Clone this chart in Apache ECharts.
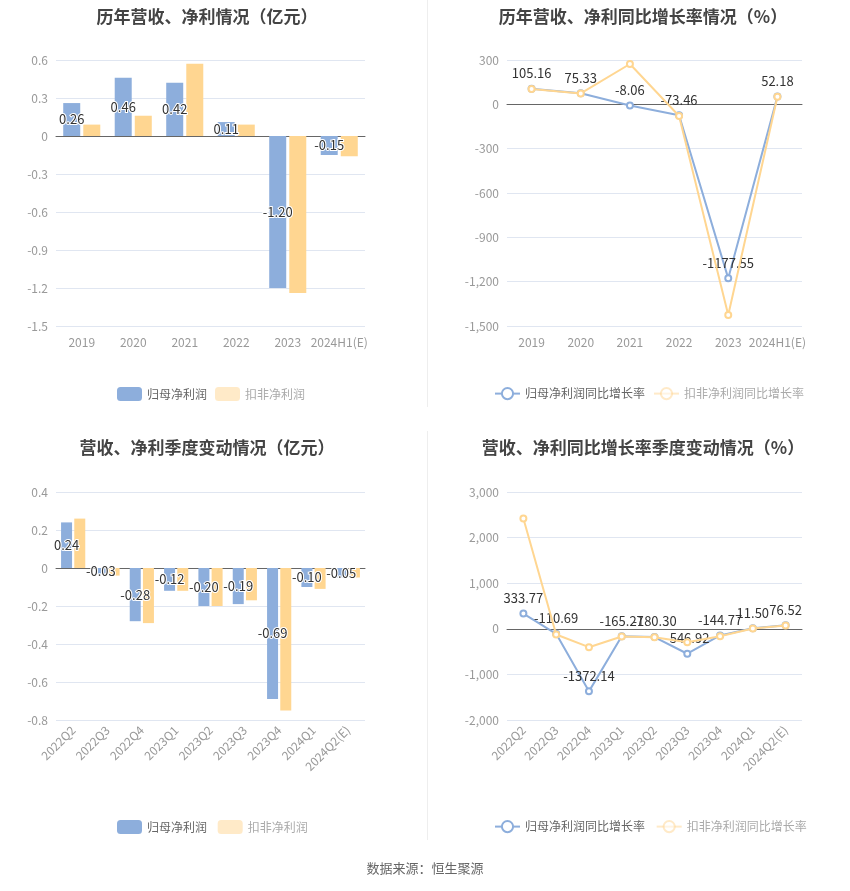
<!DOCTYPE html>
<html><head><meta charset="utf-8">
<script src="https://cdn.jsdelivr.net/npm/echarts@6/dist/echarts.min.js"></script>
<style>html,body{margin:0;padding:0;background:#fff}#c{width:850px;height:891px}</style>
</head><body><div id="c"></div>
<script>
const yearCats = ['2019','2020','2021','2022','2023','2024H1(E)'];
const yearNet = [0.26,0.46,0.42,0.11,-1.20,-0.15];
const yearDeduct = [0.09,0.16,0.57,0.09,-1.24,-0.16];
const yearNetGrowth = [105.16,75.33,-8.06,-73.46,-1177.55,52.18];
const yearDeductGrowth = [103,74,273,-79,-1426,51];
const qCats = ['2022Q2','2022Q3','2022Q4','2023Q1','2023Q2','2023Q3','2023Q4','2024Q1','2024Q2(E)'];
const qNet = [0.24,-0.03,-0.28,-0.12,-0.20,-0.19,-0.69,-0.10,-0.05];
const qDeduct = [0.26,-0.04,-0.29,-0.12,-0.20,-0.17,-0.75,-0.11,-0.05];
const qNetGrowth = [333.77,-110.69,-1372.14,-165.27,-180.30,-546.92,-144.77,11.50,76.52];
const qDeductGrowth = [2420,-125,-403,-169,-184,-293,-162,5,72];

const BLUE = '#8daedc', YEL = '#ffd691';
const FONT = '"Noto Sans CJK SC","Microsoft YaHei",sans-serif';
const chart = echarts.init(document.getElementById('c'));
const titleStyle = {fontSize:17,fontWeight:'bold',color:'#444',fontFamily:FONT};
const axisLabel = {color:'#999',fontSize:12,fontFamily:FONT};
function xAx(idx, cats, rotate){
  return {type:'category',gridIndex:idx,data:cats,
    axisLine:{onZero:true,lineStyle:{color:'#666'}},
    axisTick:{alignWithLabel:true,lineStyle:{color:'#666'}},
    axisLabel:Object.assign({interval:0,rotate:rotate||0,margin:rotate?8:10},axisLabel)};
}
function yAx(idx,min,max,interval,fmt){
  return {type:'value',gridIndex:idx,min:min,max:max,interval:interval,
    axisLine:{show:false},axisTick:{show:false},
    splitLine:{lineStyle:{color:'#e0e6f1'}},
    axisLabel:Object.assign({formatter:fmt},axisLabel)};
}
const numFmt = v => {const s=Math.abs(v).toLocaleString('en-US');return (v<0?'-':'')+s;};
const decFmt = v => (Math.round(v*10)/10).toString();
const barLabel = {show:true,position:'inside',color:'#333',fontSize:13,fontFamily:FONT,
  textBorderColor:'#fff',textBorderWidth:2,formatter:p=>p.value.toFixed(2)};
const lineLabel = {show:true,position:'top',color:'#333',fontSize:13,fontFamily:FONT,
  formatter:p=>p.value.toFixed(2)};
const legendText = {color:'#666',fontSize:12,fontFamily:FONT};
const fadedLegendItem = name => ({name:name,itemStyle:{opacity:0.5},lineStyle:{opacity:0.5},textStyle:{color:'#aaa'}});

chart.setOption({
  animation:false,
  title:[
    {text:'历年营收、净利情况（亿元）',left:202,top:3,textAlign:'center',textStyle:titleStyle},
    {text:'历年营收、净利同比增长率情况（%）',left:638,top:3,textAlign:'center',textStyle:titleStyle},
    {text:'营收、净利季度变动情况（亿元）',left:202,top:434,textAlign:'center',textStyle:titleStyle},
    {text:'营收、净利同比增长率季度变动情况（%）',left:638,top:434,textAlign:'center',textStyle:titleStyle}
  ],
  legend:[
    {left:112,top:382,itemWidth:25,itemHeight:14,itemGap:8,textStyle:legendText,
     data:['归母净利润',fadedLegendItem('扣非净利润')],selectedMode:false},
    {left:489,top:382,itemWidth:25,itemHeight:14,itemGap:8,textStyle:legendText,
     data:['归母净利润同比增长率',fadedLegendItem('扣非净利润同比增长率')],selectedMode:false},
    {left:112,top:815,itemWidth:25,itemHeight:14,itemGap:8,textStyle:legendText,
     data:['归母净利润 ',fadedLegendItem('扣非净利润 ')],selectedMode:false},
    {left:489,top:815,itemWidth:25,itemHeight:14,itemGap:8,textStyle:legendText,
     data:['归母净利润同比增长率 ',fadedLegendItem('扣非净利润同比增长率 ')],selectedMode:false}
  ],
  grid:[
    {left:56,width:309,top:60,height:266},
    {left:507,width:295,top:60,height:266},
    {left:56,width:309,top:492,height:228},
    {left:507,width:295,top:492,height:228}
  ],
  xAxis:[xAx(0,yearCats),xAx(1,yearCats),xAx(2,qCats,45),xAx(3,qCats,45)],
  yAxis:[yAx(0,-1.5,0.6,0.3,decFmt),yAx(1,-1500,300,300,numFmt),yAx(2,-0.8,0.4,0.2,decFmt),yAx(3,-2000,3000,1000,numFmt)],
  series:[
    {name:'归母净利润',type:'bar',xAxisIndex:0,yAxisIndex:0,data:yearNet,barWidth:17,barGap:'18%',
     itemStyle:{color:BLUE},label:barLabel,z:3},
    {name:'扣非净利润',type:'bar',xAxisIndex:0,yAxisIndex:0,data:yearDeduct,barWidth:17,barGap:'18%',
     itemStyle:{color:YEL},z:2},
    {name:'归母净利润同比增长率',type:'line',xAxisIndex:1,yAxisIndex:1,data:yearNetGrowth,
     symbol:'emptyCircle',symbolSize:6,lineStyle:{width:2,color:BLUE},itemStyle:{color:BLUE},label:lineLabel,z:2},
    {name:'扣非净利润同比增长率',type:'line',xAxisIndex:1,yAxisIndex:1,data:yearDeductGrowth,
     symbol:'emptyCircle',symbolSize:6,lineStyle:{width:2,color:YEL},itemStyle:{color:YEL},z:3},
    {name:'归母净利润 ',type:'bar',xAxisIndex:2,yAxisIndex:2,data:qNet,barWidth:11,barGap:'20%',
     itemStyle:{color:BLUE},label:barLabel,z:3},
    {name:'扣非净利润 ',type:'bar',xAxisIndex:2,yAxisIndex:2,data:qDeduct,barWidth:11,barGap:'20%',
     itemStyle:{color:YEL},z:2},
    {name:'归母净利润同比增长率 ',type:'line',xAxisIndex:3,yAxisIndex:3,data:qNetGrowth,
     symbol:'emptyCircle',symbolSize:6,lineStyle:{width:2,color:BLUE},itemStyle:{color:BLUE},label:lineLabel,z:2},
    {name:'扣非净利润同比增长率 ',type:'line',xAxisIndex:3,yAxisIndex:3,data:qDeductGrowth,
     symbol:'emptyCircle',symbolSize:6,lineStyle:{width:2,color:YEL},itemStyle:{color:YEL},z:3}
  ],
  graphic:[
    {type:'line',shape:{x1:427.5,y1:0,x2:427.5,y2:407},style:{stroke:'#eee',lineWidth:1}},
    {type:'line',shape:{x1:427.5,y1:431,x2:427.5,y2:840},style:{stroke:'#eee',lineWidth:1}},
    {type:'text',left:'center',top:862,style:{text:'数据来源：恒生聚源',fill:'#666',font:'13px '+FONT}}
  ]
});
</script></body></html>
